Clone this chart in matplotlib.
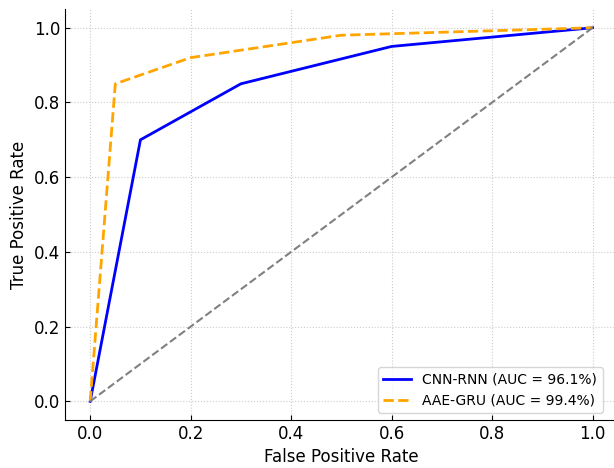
import matplotlib
matplotlib.use("Agg")
import matplotlib.pyplot as plt

# ROC curve points
cnn_fpr = [0.0, 0.1, 0.3, 0.6, 1.0]
cnn_tpr = [0.0, 0.70, 0.85, 0.95, 1.0]
aae_fpr = [0.0, 0.05, 0.2, 0.5, 1.0]
aae_tpr = [0.0, 0.85, 0.92, 0.98, 1.0]
chance = [0.0, 1.0]

fig = plt.figure(figsize=(6.14, 4.68), dpi=100)
ax = fig.add_axes([0.106, 0.1026, 0.90, 0.878])

ax.plot(cnn_fpr, cnn_tpr, color='blue', lw=2, label='CNN-RNN (AUC = 96.1%)')
ax.plot(aae_fpr, aae_tpr, color='orange', lw=2, ls='--', label='AAE-GRU (AUC = 99.4%)')
ax.plot(chance, chance, color='gray', lw=1.5, ls='--')

ax.set_xlim(-0.05, 1.05)
ax.set_ylim(-0.05, 1.05)
ax.set_xlabel('False Positive Rate', fontsize=12)
ax.set_ylabel('True Positive Rate', fontsize=12)
ax.tick_params(direction='in', labelsize=12)
ax.grid(True, ls=':', color='#cccccc')
ax.spines['top'].set_visible(False)
ax.spines['right'].set_visible(False)
ax.legend(loc='lower right', fontsize=10, bbox_to_anchor=(0.973, 0.017),
          borderaxespad=0)

fig.savefig('out.png', dpi=100)
